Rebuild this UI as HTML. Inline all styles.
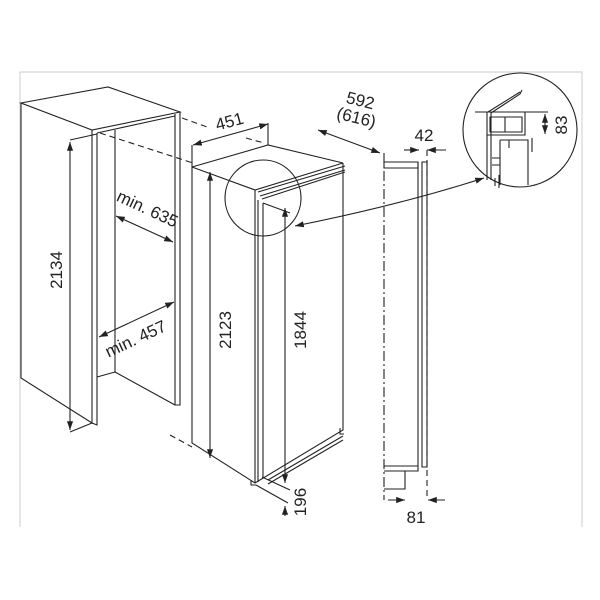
<!DOCTYPE html>
<html><head><meta charset="utf-8"><style>
html,body{margin:0;padding:0;background:#fff;width:600px;height:600px;overflow:hidden}
svg{display:block}
text{font-family:"Liberation Sans",sans-serif;fill:#222;font-size:17px}
</style></head><body>
<svg width="600" height="600" viewBox="0 0 600 600" xmlns="http://www.w3.org/2000/svg">
<defs>
<marker id="a" viewBox="0 0 10 10" refX="10" refY="5" markerWidth="8" markerHeight="8" orient="auto-start-reverse"><path d="M0,1.5 L10,5 L0,8.5z" fill="#222"/></marker>
</defs>
<path d="M20,527 V72 H582 V527" fill="none" stroke="#d4d4d4" stroke-width="1.2"/>
<g fill="none" stroke="#222" stroke-width="1.1">
<path d="M21,103 L108,87 L180,112 L92,130 Z"/>
<path d="M21,103 V378 L92,423 V130"/>
<path d="M97,133 V425 L92,423"/>
<path d="M97,133 L175,116"/>
<path d="M175,114 V405 H180 V112"/>
<path d="M115,130 V372 L175,405"/>
<path d="M97,377 L115,372"/>
<path d="M70,140 L97,134 M70,432 L92,423"/>
<path d="M70,142 V430" marker-start="url(#a)" marker-end="url(#a)"/>
<path d="M116,216 L173,242" marker-start="url(#a)" marker-end="url(#a)"/>
<path d="M99,337 L174,302" marker-start="url(#a)" marker-end="url(#a)"/>
<path d="M100,133 L193,163 M182,118 L210,128 M246,138 L264,143 M170,435 L192,447" stroke-dasharray="6,4"/>
<path d="M192,167 L268,145 L343,163 M192,167 L255,190 L343,163"/>
<path d="M192,167 V443 L255,483 L343,430 V163"/>
<path d="M255,190 V483"/>
<path d="M258,192 L345,166 M260,196 L345,170 M262,199 L345,172"/>
<path d="M258,200 V482 M263,203 V478 M263,203 L290,213"/>
<path d="M268,484 L343,440 M268,480 L343,436"/>
<path d="M340,428 v6 h4" />
<path d="M251,480 v5 h5"/>
<circle cx="263" cy="198" r="38"/>
<path d="M192,145 V167 M268,123 V145"/>
<path d="M193,145 L268,124" marker-start="url(#a)" marker-end="url(#a)"/>
<path d="M318,130 L380,153" marker-start="url(#a)" marker-end="url(#a)"/>
<path d="M210,172 V458" marker-start="url(#a)" marker-end="url(#a)"/>
<path d="M285,208 V483" marker-start="url(#a)" marker-end="url(#a)"/>
<path d="M262,477 L290,490 M256,485 L288,503"/>
<path d="M285,516 V506" marker-end="url(#a)"/>
<path d="M384,153 V500" stroke-dasharray="10,3,2,3"/>
<path d="M427,150 V500" stroke-dasharray="6,4"/>
<path d="M384,162 H418 V168 H384 Z"/>
<path d="M418,162 V466 M422,162 H427 V467 H422 Z"/>
<path d="M384,466 H418 V471 H384"/>
<path d="M405,471 V489 H384"/>
<path d="M404,150 H419" marker-end="url(#a)"/>
<path d="M446,150 H427" marker-end="url(#a)"/>
<path d="M388,500 H405" marker-end="url(#a)"/>
<path d="M445,500 H428" marker-end="url(#a)"/>
<circle cx="520" cy="130" r="57"/>
<path d="M475,112 H548 M488,112 L520,92 M491,113 L520,94 L522,90"/>
<path d="M545,114 V134" marker-start="url(#a)" marker-end="url(#a)"/>
<path d="M487,112 V180 M491,112 V180 M487,135 H525 V112 M490,117 H522 V132 H490 Z M505,117 V132"/>
<path d="M500,140 H528 V185 M500,140 V185 M509,140 V148"/>
<path d="M492,158 H500 M492,165 H500 M495,178 V186 M499,175 V188"/>
<path d="M532,138 V152"/>
<path d="M295,226 Q400,205 484,178" marker-start="url(#a)" marker-end="url(#a)"/>
</g>
<text transform="translate(62,270) rotate(-90)" text-anchor="middle">2134</text>
<text transform="translate(145,214) rotate(25)" text-anchor="middle">min. 635</text>
<text transform="translate(138,344) rotate(-25)" text-anchor="middle">min. 457</text>
<text transform="translate(231,127) rotate(-15)" text-anchor="middle">451</text>
<text transform="translate(359,106) rotate(14)" text-anchor="middle">592</text>
<text transform="translate(355,123) rotate(14)" text-anchor="middle">(616)</text>
<text x="424" y="141" text-anchor="middle">42</text>
<text transform="translate(231,330) rotate(-90)" text-anchor="middle">2123</text>
<text transform="translate(306,330) rotate(-90)" text-anchor="middle">1844</text>
<text transform="translate(306,502) rotate(-90)" text-anchor="middle">196</text>
<text x="416" y="523" text-anchor="middle">81</text>
<text transform="translate(567,125) rotate(-90)" text-anchor="middle">83</text>
</svg>
</body></html>
